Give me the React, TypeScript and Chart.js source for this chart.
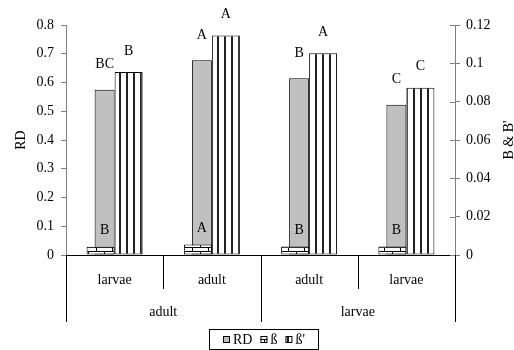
import React, { useEffect, useRef } from "react";
import { Chart, registerables } from "chart.js";

Chart.register(...registerables);

// ---- Data ----
const categories = ["larvae", "adult", "adult", "larvae"];
const groups = ["adult", "larvae"];
const rdValues = [0.575, 0.677, 0.615, 0.523];
const betaValues = [0.0043, 0.0055, 0.0045, 0.0045];
const betaPrimeValues = [0.0955, 0.1145, 0.1052, 0.0873];
const rdLetters = ["BC", "A", "B", "C"];
const betaLetters = ["B", "A", "B", "B"];
const betaPrimeLetters = ["B", "A", "A", "C"];
const leftAxisTitle = "RD";
const rightAxisTitle = "B & B'";
const legendLabels = ["RD", "ß", "ß'"];

const FONT = '"Liberation Serif", "Times New Roman", serif';

function stripePattern(ctx: CanvasRenderingContext2D) {
  const c = document.createElement("canvas");
  c.width = 7;
  c.height = 7;
  const g = c.getContext("2d")!;
  g.fillStyle = "#ffffff";
  g.fillRect(0, 0, 7, 7);
  g.fillStyle = "#222222";
  g.fillRect(0, 0, 2, 7);
  return ctx.createPattern(c, "repeat")!;
}

function brickPattern(ctx: CanvasRenderingContext2D) {
  const c = document.createElement("canvas");
  c.width = 16;
  c.height = 8;
  const g = c.getContext("2d")!;
  g.fillStyle = "#ffffff";
  g.fillRect(0, 0, 16, 8);
  g.fillStyle = "#000000";
  g.fillRect(0, 3, 16, 1);
  g.fillRect(0, 7, 16, 1);
  g.fillRect(0, 0, 1, 3);
  g.fillRect(8, 4, 1, 3);
  return ctx.createPattern(c, "repeat")!;
}

export default function App() {
  const ref = useRef<HTMLCanvasElement | null>(null);

  useEffect(() => {
    const canvas = ref.current!;
    const ctx0 = canvas.getContext("2d")!;
    const stripes = stripePattern(ctx0);
    const bricks = brickPattern(ctx0);

    const decorPlugin = {
      id: "decor",
      afterDatasetsDraw(chart: any) {
        const ctx = chart.ctx as CanvasRenderingContext2D;
        const rdMeta = chart.getDatasetMeta(0);
        const betaMeta = chart.getDatasetMeta(1);
        const bpMeta = chart.getDatasetMeta(2);
        ctx.save();
        ctx.font = `14px ${FONT}`;
        ctx.fillStyle = "#000";
        ctx.textAlign = "center";
        ctx.textBaseline = "bottom";
        rdMeta.data.forEach((el: any, i: number) => {
          ctx.fillText(rdLetters[i], el.x, el.y - 18);
        });
        bpMeta.data.forEach((el: any, i: number) => {
          ctx.fillText(betaPrimeLetters[i], el.x, el.y - 14);
        });
        betaMeta.data.forEach((el: any, i: number) => {
          const rx = rdMeta.data[i].x;
          ctx.fillText(betaLetters[i], rx, el.y - 9);
        });
        ctx.restore();
      },
      afterDraw(chart: any) {
        const ctx = chart.ctx as CanvasRenderingContext2D;
        const { left, right, top, bottom } = chart.chartArea;
        const xs = chart.scales.x;
        const y1 = chart.scales.y1;
        const n = categories.length;
        ctx.save();
        // baseline
        ctx.strokeStyle = "#000";
        ctx.lineWidth = 1;
        ctx.beginPath();
        ctx.moveTo(left, Math.round(bottom) + 0.5);
        ctx.lineTo(right, Math.round(bottom) + 0.5);
        ctx.stroke();
        // right axis inner tick halves
        ctx.strokeStyle = "#808080";
        y1.ticks.forEach((t: any) => {
          const py = Math.round(y1.getPixelForValue(t.value)) + 0.5;
          ctx.beginPath();
          ctx.moveTo(right - 5, py);
          ctx.lineTo(right, py);
          ctx.stroke();
        });
        // separators
        ctx.strokeStyle = "#000";
        const bounds: number[] = [];
        for (let i = 0; i <= n; i++) {
          let bx: number;
          if (i === 0) bx = left;
          else if (i === n) bx = right;
          else bx = (xs.getPixelForValue(i - 1) + xs.getPixelForValue(i)) / 2;
          bounds.push(bx);
          const len = i % 2 === 0 ? 67 : 34;
          const px = Math.round(bx) + 0.5;
          ctx.beginPath();
          ctx.moveTo(px, bottom);
          ctx.lineTo(px, bottom + len);
          ctx.stroke();
        }
        // category labels
        ctx.font = `14px ${FONT}`;
        ctx.fillStyle = "#000";
        ctx.textAlign = "center";
        ctx.textBaseline = "middle";
        categories.forEach((c, i) => {
          ctx.fillText(c, xs.getPixelForValue(i), bottom + 25);
        });
        groups.forEach((g, gi) => {
          const cx = (bounds[gi * 2] + bounds[gi * 2 + 2]) / 2;
          ctx.fillText(g, cx, bottom + 57);
        });
        // axis titles
        ctx.save();
        ctx.translate(21, (top + bottom) / 2);
        ctx.rotate(-Math.PI / 2);
        ctx.fillText(leftAxisTitle, 0, 0);
        ctx.restore();
        ctx.save();
        ctx.translate(509, (top + bottom) / 2);
        ctx.rotate(-Math.PI / 2);
        ctx.fillText(rightAxisTitle, 0, 0);
        ctx.restore();
        // legend
        const lx = 209.5,
          ly = 329.5,
          lw = 109,
          lh = 20;
        ctx.fillStyle = "#fff";
        ctx.fillRect(lx, ly, lw, lh);
        ctx.strokeStyle = "#000";
        ctx.strokeRect(lx, ly, lw, lh);
        const fills: (string | CanvasPattern)[] = ["#c0c0c0", bricks, stripes];
        ctx.textAlign = "left";
        const widths = legendLabels.map((l) => ctx.measureText(l).width);
        const sw = 7,
          gap1 = 3,
          gap2 = 8;
        let total = 0;
        widths.forEach((w, i) => {
          total += sw + gap1 + w + (i < widths.length - 1 ? gap2 : 0);
        });
        let cx = Math.round(lx + (lw - total) / 2);
        const cy = ly + lh / 2;
        legendLabels.forEach((l, i) => {
          ctx.fillStyle = fills[i] as any;
          ctx.fillRect(cx, Math.round(cy - 3.5), sw, sw);
          ctx.strokeStyle = "#000";
          ctx.strokeRect(cx + 0.5, Math.round(cy - 3.5) + 0.5, sw - 1, sw - 1);
          cx += sw + gap1;
          ctx.fillStyle = "#000";
          ctx.fillText(l, cx, cy + 1);
          cx += widths[i] + gap2;
        });
        ctx.restore();
      },
    };

    const chart = new Chart(canvas, {
      type: "bar",
      data: {
        labels: categories,
        datasets: [
          {
            label: legendLabels[0],
            data: rdValues,
            yAxisID: "y",
            stack: "a",
            backgroundColor: "#c0c0c0",
            borderColor: "#000",
            borderWidth: 1,
            borderSkipped: false,
            categoryPercentage: 0.411,
            barPercentage: 1,
            order: 1,
          },
          {
            label: legendLabels[1],
            data: betaValues,
            yAxisID: "y1",
            stack: "a",
            backgroundColor: bricks,
            borderColor: "#000",
            borderWidth: 1,
            borderSkipped: false,
            categoryPercentage: 0.576,
            barPercentage: 1,
            order: 0,
          },
          {
            label: legendLabels[2],
            data: betaPrimeValues,
            yAxisID: "y1",
            stack: "b",
            backgroundColor: stripes,
            borderColor: "#000",
            borderWidth: 1,
            borderSkipped: false,
            categoryPercentage: 0.576,
            barPercentage: 1,
            order: 2,
          },
        ] as any,
      },
      options: {
        animation: false,
        responsive: false,
        devicePixelRatio: 1,
        layout: { padding: { top: 25, bottom: 95, left: 0, right: 0 } },
        plugins: {
          legend: { display: false },
          tooltip: { enabled: false },
        },
        scales: {
          x: { type: "category", display: false, offset: true },
          y: {
            position: "left",
            min: 0,
            max: 0.8,
            stacked: false,
            afterFit: (s: any) => {
              s.width = 66;
            },
            ticks: {
              stepSize: 0.1,
              padding: 7,
              color: "#000",
              font: { family: FONT, size: 14 },
              callback: (v: any) => String(Number(Number(v).toFixed(2))),
            },
            grid: {
              drawOnChartArea: false,
              drawTicks: true,
              tickLength: 5,
              color: "#808080",
            },
            border: { display: true, color: "#808080" },
          },
          y1: {
            position: "right",
            min: 0,
            max: 0.12,
            stacked: false,
            afterFit: (s: any) => {
              s.width = 59;
            },
            ticks: {
              stepSize: 0.02,
              padding: 6,
              color: "#000",
              font: { family: FONT, size: 14 },
              callback: (v: any) => String(Number(Number(v).toFixed(2))),
            },
            grid: {
              drawOnChartArea: false,
              drawTicks: true,
              tickLength: 5,
              color: "#808080",
            },
            border: { display: true, color: "#808080" },
          },
        },
      } as any,
      plugins: [decorPlugin],
    });
    return () => chart.destroy();
  }, []);

  return (
    <div style={{ position: "absolute", left: 0, top: 0, width: 514, height: 350, background: "#fff" }}>
      <canvas ref={ref} width={514} height={350} style={{ width: 514, height: 350, display: "block" }} />
    </div>
  );
}
